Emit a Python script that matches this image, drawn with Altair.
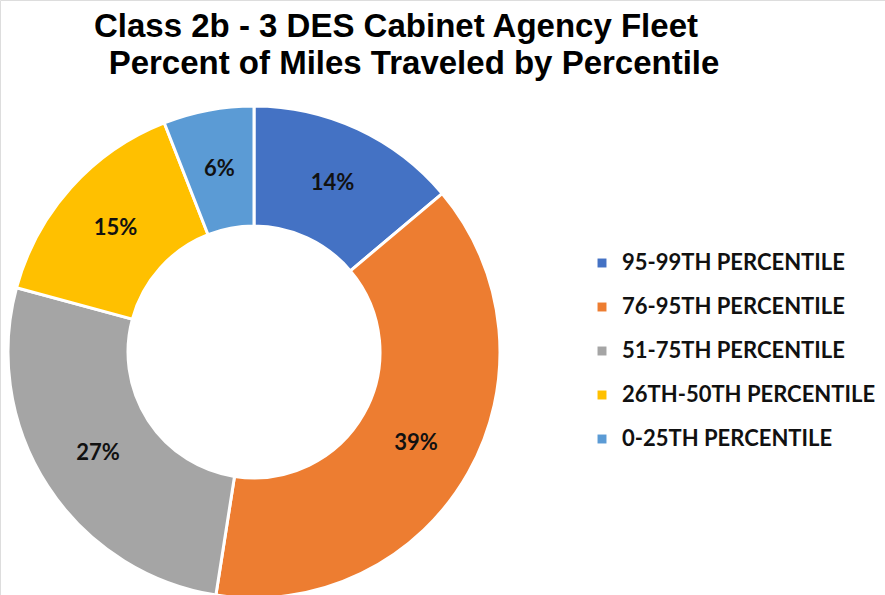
import altair as alt
import pandas as pd

categories = ["95-99TH PERCENTILE", "\u200776-95TH PERCENTILE", "\u200751-75TH PERCENTILE",
              "\u200726TH-50TH PERCENTILE", "\u20070-25TH PERCENTILE"]
values = [14, 39, 27, 15, 6]
labels = ["14%", "39%", "27%", "15%", "6%"]
colors = ["#4472C4", "#ED7D31", "#A5A5A5", "#FFC000", "#5B9BD5"]
title_lines = ["Class 2b - 3 DES Cabinet Agency Fleet", "Percent of Miles Traveled by Percentile"]

df = pd.DataFrame({"cat": categories, "value": values, "label": labels, "idx": list(range(len(values)))})

CX, CY = 254, 352

base = alt.Chart(df).encode(
    theta=alt.Theta("value:Q", stack=True),
    order=alt.Order("idx:Q"),
)

arcs = base.mark_arc(outerRadius=246, innerRadius=126, stroke="white", strokeWidth=3).encode(
    x=alt.value(CX), y=alt.value(CY),
    color=alt.Color("cat:N", scale=alt.Scale(domain=categories, range=colors),
                    legend=alt.Legend(title=None, orient="none", legendX=591, legendY=252,
                                      symbolType="square", symbolSize=80, symbolStrokeWidth=0,
                                      labelFont="Lato", labelFontWeight="bold", labelFontSize=22,
                                      labelColor="#111111", labelLimit=400, rowPadding=22,
                                      labelOffset=9)),
)

texts = base.mark_text(radius=186, font="Lato", fontWeight="bold", fontSize=22, color="#111111").encode(
    x=alt.value(CX), y=alt.value(CY),
    text="label:N",
)

t1 = alt.Chart(pd.DataFrame({"t": [title_lines[0]]})).mark_text(
    font="Liberation Sans", fontWeight="bold", fontSize=33, color="#000000", align="center", baseline="middle"
).encode(x=alt.value(396), y=alt.value(27), text="t:N")
t2 = alt.Chart(pd.DataFrame({"t": [title_lines[1]]})).mark_text(
    font="Liberation Sans", fontWeight="bold", fontSize=33, color="#000000", align="center", baseline="middle"
).encode(x=alt.value(414), y=alt.value(64), text="t:N")

chart = alt.layer(arcs, texts, t1, t2).properties(
    width=885, height=595, autosize=alt.AutoSizeParams(type="none"), padding=0
).configure_view(stroke=None).configure(background="white")

chart.save("out.html", embed_options={"renderer": "svg", "actions": False})
